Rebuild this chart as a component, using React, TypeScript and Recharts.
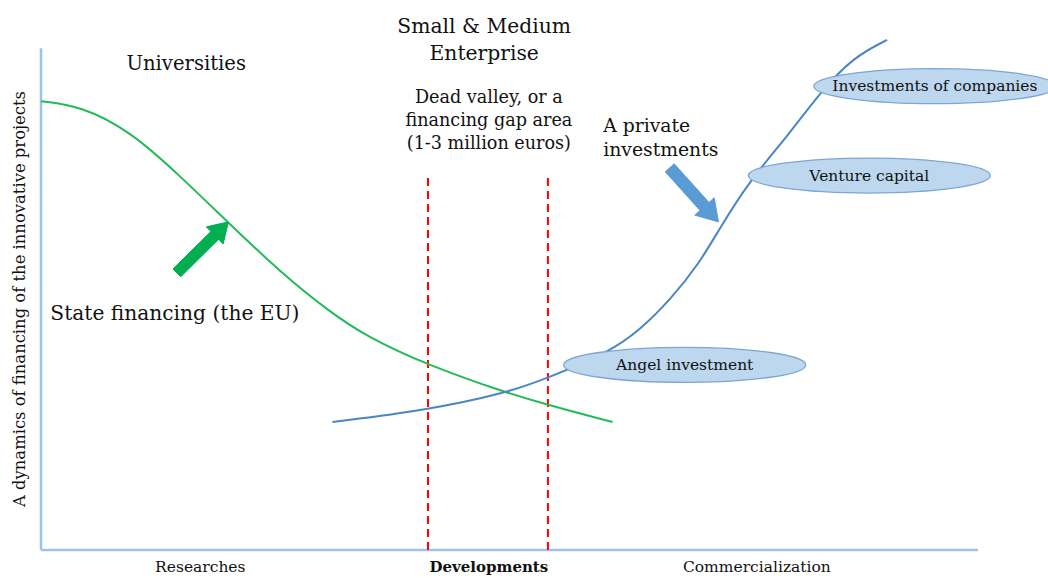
import React from "react";
import { LineChart, Line, XAxis, YAxis, ReferenceLine, ReferenceDot } from "recharts";

// stage labels on the horizontal axis
const stageNames = ["Researches", "Developments", "Commercialization"];
const stagePos = [17.0, 47.8, 76.4];

// state financing curve (green)
const stateX = [0, 4.2, 9.5, 14.8, 19.9, 25.5, 30.8, 34.8, 41.2, 49.7, 54.1, 61.0];
const stateY = [86.3, 85.4, 80.6, 72.0, 63.1, 53.5, 45.8, 41.0, 35.6, 30.2, 27.9, 24.6];

// private investments curve (blue)
const privateX = [31.1, 41.2, 49.7, 54.1, 60.7, 63.9, 67.1, 70.3, 72.5, 75.7, 79.6, 83.1, 86.7, 90.3];
const privateY = [24.6, 26.9, 30.2, 33.1, 38.1, 42.3, 48.0, 55.2, 62.1, 71.2, 79.4, 87.9, 94.8, 98.1];

// financing gap borders
const gapX = [41.3, 54.1];
const gapTop = 72.1;

// funding stages shown as ellipses on the blue curve
const stageBubbles = [
  { label: "Angel investment", x: 68.7, y: 35.6 },
  { label: "Venture capital", x: 88.4, y: 72.0 },
  { label: "Investments of companies", x: 95.4, y: 89.2 },
];

const notes = [
  { lines: ["Universities"], x: 15.5, y: 92.3, size: 19.6, anchor: "middle" },
  { lines: ["Small & Medium", "Enterprise"], x: 47.3, y: 99.4, size: 20.3, anchor: "middle" },
  { lines: ["Dead valley, or a", "financing gap area", "(1-3 million euros)"], x: 47.8, y: 86.0, size: 17.6, anchor: "middle" },
  { lines: ["A private", "investments"], x: 60.0, y: 80.4, size: 18.8, anchor: "start" },
  { lines: ["State financing (the EU)"], x: 1.0, y: 44.2, size: 20.2, anchor: "start" },
];

const arrows = [
  { from: { x: 14.5, y: 53.3 }, to: { x: 20.0, y: 63.1 }, color: "#00B050", w: 11, head: 24 },
  { from: { x: 67.1, y: 73.5 }, to: { x: 72.3, y: 63.1 }, color: "#5B9BD5", w: 12, head: 26 },
];

const stateData = stateX.map((x, i) => ({ x, y: stateY[i] }));
const privateData = privateX.map((x, i) => ({ x, y: privateY[i] }));

const FONT = "'DejaVu Serif', 'Liberation Serif', serif";
const AXIS = "#9DC3E6";

function StageTick(props: any) {
  const { x, y, index } = props;
  return (
    <text
      x={x}
      y={y + 14}
      textAnchor="middle"
      fontFamily={FONT}
      fontSize={index === 1 ? 15 : 15.5}
      fontWeight={index === 1 ? "bold" : "normal"}
      fill="#111"
    >
      {stageNames[index]}
    </text>
  );
}

function Bubble(label: string) {
  return (props: any) => (
    <g>
      <ellipse cx={props.cx} cy={props.cy} rx={121} ry={17.5} fill="#BDD7EE" stroke="#7EA6D3" strokeWidth={1.3} />
      <text x={props.cx} y={props.cy + 5} textAnchor="middle" fontFamily={FONT} fontSize={15.5} fill="#111">
        {label}
      </text>
    </g>
  );
}

function Note(lines: string[], size: number, anchor: string) {
  return (props: any) => (
    <text x={props.cx} y={props.cy} textAnchor={anchor} fontFamily={FONT} fontSize={size} fill="#111">
      {lines.map((l, i) => (
        <tspan key={i} x={props.cx} dy={i === 0 ? 0 : size * 1.3}>
          {l}
        </tspan>
      ))}
    </text>
  );
}

function Arrow(color: string, w: number, head: number) {
  return (props: any) => {
    const { x1, y1, x2, y2 } = props;
    const dx = x2 - x1;
    const dy = y2 - y1;
    const len = Math.sqrt(dx * dx + dy * dy);
    const ux = dx / len;
    const uy = dy / len;
    const nx = -uy;
    const ny = ux;
    const hl = head * 0.8;
    const bx = x2 - ux * hl;
    const by = y2 - uy * hl;
    const pts = [
      [x1 + nx * w / 2, y1 + ny * w / 2],
      [bx + nx * w / 2, by + ny * w / 2],
      [bx + nx * head / 2, by + ny * head / 2],
      [x2, y2],
      [bx - nx * head / 2, by - ny * head / 2],
      [bx - nx * w / 2, by - ny * w / 2],
      [x1 - nx * w / 2, y1 - ny * w / 2],
    ];
    return <polygon points={pts.map((p) => p.join(",")).join(" ")} fill={color} stroke={color} strokeWidth={1} />;
  };
}

export default function App() {
  return (
    <div style={{ position: "absolute", left: 0, top: 0, background: "#fff" }}>
      <LineChart width={1048} height={578} margin={{ top: 30, right: 70, bottom: 0, left: 0 }}>
        <XAxis
          type="number"
          dataKey="x"
          domain={[0, 100]}
          ticks={stagePos}
          interval={0}
          tick={<StageTick />}
          axisLine={false}
          tickLine={false}
          height={28}
          allowDataOverflow
        />
        <YAxis
          type="number"
          dataKey="y"
          domain={[0, 100]}
          width={41}
          tick={false}
          axisLine={false}
          tickLine={false}
          allowDataOverflow
          label={{
            content: (p: any) => {
              const vb = p.viewBox || { x: 0, y: 30, width: 41, height: 520 };
              const cy = vb.y + vb.height / 2 + 9;
              return (
                <text
                  x={20}
                  y={cy}
                  transform={`rotate(-90, 20, ${cy})`}
                  textAnchor="middle"
                  dominantBaseline="middle"
                  fontFamily={FONT}
                  fontSize={16.4}
                  fill="#111"
                >
                  A dynamics of financing of the innovative projects
                </text>
              );
            },
          }}
        />
        <ReferenceLine segment={[{ x: 0, y: 0 }, { x: 100, y: 0 }]} stroke={AXIS} strokeWidth={2.5} ifOverflow="visible" />
        <ReferenceLine segment={[{ x: 0, y: 0 }, { x: 0, y: 96.5 }]} stroke={AXIS} strokeWidth={2.5} ifOverflow="visible" />
        {gapX.map((gx) => (
          <ReferenceLine
            key={gx}
            segment={[{ x: gx, y: 0 }, { x: gx, y: gapTop }]}
            stroke="#FF0000"
            strokeWidth={2}
            strokeDasharray="8 5"
          />
        ))}
        <Line data={stateData} dataKey="y" type="basis" stroke="#22BB55" strokeWidth={2} dot={false} isAnimationActive={false} />
        <Line data={privateData} dataKey="y" type="basis" stroke="#4A86C5" strokeWidth={2} dot={false} isAnimationActive={false} />
        {arrows.map((a, i) => (
          <ReferenceLine key={`a${i}`} segment={[a.from, a.to]} shape={Arrow(a.color, a.w, a.head)} ifOverflow="visible" />
        ))}
        {stageBubbles.map((b) => (
          <ReferenceDot key={b.label} x={b.x} y={b.y} shape={Bubble(b.label)} ifOverflow="visible" />
        ))}
        {notes.map((n) => (
          <ReferenceDot key={n.lines[0]} x={n.x} y={n.y} shape={Note(n.lines, n.size, n.anchor)} ifOverflow="visible" />
        ))}
      </LineChart>
    </div>
  );
}
